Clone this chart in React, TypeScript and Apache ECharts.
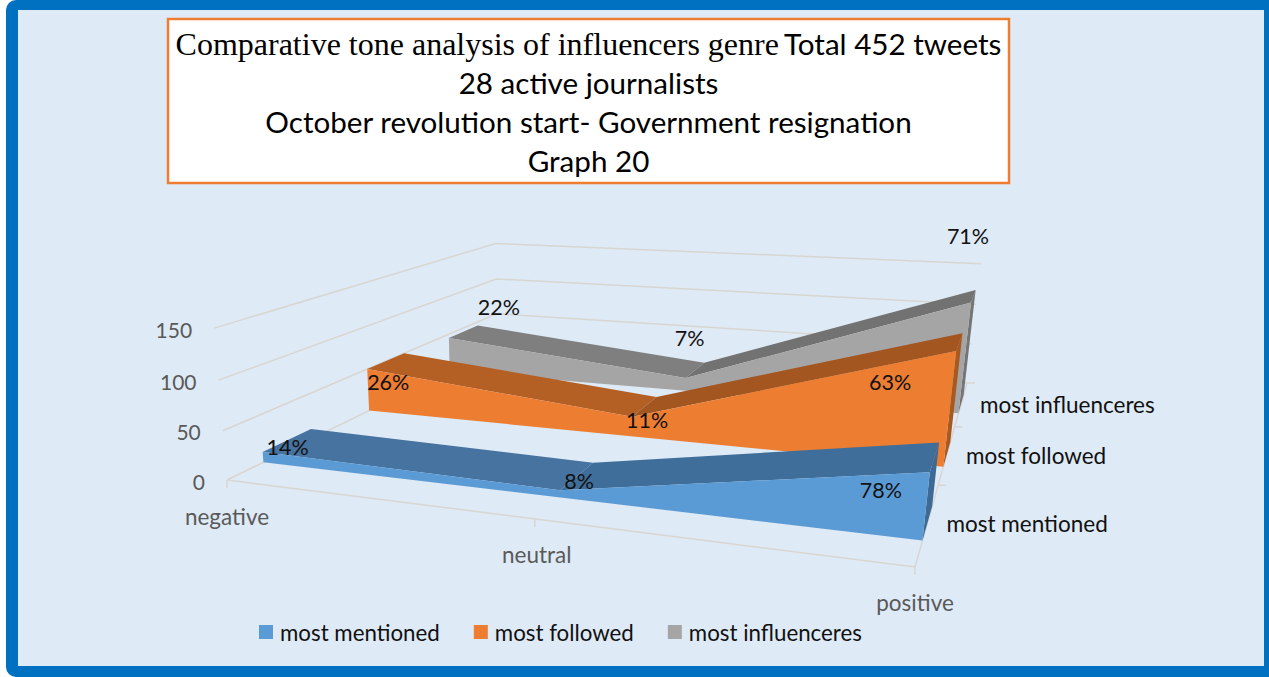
import React, { useEffect, useRef } from "react";
import * as echarts from "echarts";

const categories = ["negative", "neutral", "positive"];
const seriesNames = ["most mentioned", "most followed", "most influenceres"];
const mentionedValues = [11, 7, 60];
const followedValues = [50, 22, 117];
const influencersValues = [45, 16, 128];
const mentionedLabels = ["14%", "8%", "78%"];
const followedLabels = ["26%", "11%", "63%"];
const influencersLabels = ["22%", "7%", "71%"];
const yTicks = [0, 50, 100, 150];
const titleLines = [
  "{serif|Comparative tone analysis of influencers genre} {sans|Total 452 tweets}",
  "{sans|28 active journalists}",
  "{sans|October revolution start- Government resignation}",
  "{sans|Graph 20}",
];

const SANS = "Lato";

// Perspective camera fitted to the reference's 3D box (u: category, v: depth, z: value).
const G = -0.1904, H = 0.4849, K = -0.04;
const project = (u: number, v: number, z: number): [number, number] => {
  const w = 1 + G * u + H * v + K * z;
  return [
    (227 + 513.8 * u + 511 * v - 21.5 * z) / w,
    (480 - 20.96 * u + 36.75 * v - 165 * z) / w,
  ];
};
const toModel = (api: any, sys: any, cat: number, val: number) => {
  const p = api.coord([cat, val]);
  return { u: (p[0] - sys.x) / sys.width, z: (sys.y + sys.height - p[1]) / sys.height };
};

const LINE = "#D9D6D1";
const seriesStyle = [
  { front: "#5B9BD5", topA: "#4673A0", topB: "#3F6E9A", side: "#3D6A94", v0: 0.095, labels: mentionedLabels, nudges: [[25, -5], [19, -9], [-49, 18]] },
  { front: "#ED7D31", topA: "#B46025", topB: "#A3561F", side: "#A8591F", v0: 0.428, labels: followedLabels, nudges: [[21, 13], [15, 3], [-66, 31]] },
  { front: "#A5A5A5", topA: "#7F7F7F", topB: "#727272", side: "#757575", v0: 0.76, labels: influencersLabels, nudges: [[50, -31], [4, -40], [-3, -67]] },
];
const DEPTH = 0.14;

const poly = (points: number[][], fill: string) => ({
  type: "polygon",
  shape: { points },
  style: { fill, stroke: null },
});
const line = (points: number[][], width = 1.5) => ({
  type: "polyline",
  shape: { points },
  style: { fill: null, stroke: LINE, lineWidth: width },
});
const text = (x: number, y: number, t: string, fill: string, size: number, align: string) => ({
  type: "text",
  x,
  y,
  style: { text: t, fill, font: `${size}px ${SANS}`, textAlign: align, textVerticalAlign: "middle" },
});

const makeAreaSeries = (idx: number, values: number[]) => {
  const st = seriesStyle[idx];
  return {
    type: "custom",
    name: seriesNames[idx],
    coordinateSystem: "cartesian2d",
    z: 4 - idx,
    itemStyle: { color: st.front },
    encode: { x: 0, y: 1 },
    data: values.map((v, i) => [i, v]),
    renderItem: (params: any, api: any) => {
      const sys = params.coordSys;
      const pts = values.map((v, i) => toModel(api, sys, i, v));
      const base = values.map((_, i) => toModel(api, sys, i, 0));
      const v0 = st.v0;
      const v1 = st.v0 + DEPTH;
      const children: any[] = [];
      if (params.dataIndex === 0) {
        const last = pts.length - 1;
        children.push(
          poly(
            [
              project(base[last].u, v0, 0),
              project(pts[last].u, v0, pts[last].z),
              project(pts[last].u, v1, pts[last].z),
              project(base[last].u, v1, 0),
            ],
            st.side
          )
        );
        for (let i = 0; i < last; i++) {
          children.push(
            poly(
              [
                project(pts[i].u, v0, pts[i].z),
                project(pts[i + 1].u, v0, pts[i + 1].z),
                project(pts[i + 1].u, v1, pts[i + 1].z),
                project(pts[i].u, v1, pts[i].z),
              ],
              i === 0 ? st.topA : st.topB
            )
          );
        }
        children.push(
          poly(
            [
              project(base[0].u, v0, 0),
              ...pts.map((p) => project(p.u, v0, p.z)),
              project(base[last].u, v0, 0),
            ],
            st.front
          )
        );
        const mid = project(1, v0 + DEPTH / 2, 0);
        children.push(text(mid[0] + 19, mid[1] + 1, seriesNames[idx], "#111", 22.5, "left"));
      }
      const i = params.dataIndex;
      const anchor = project(pts[i].u, v0, pts[i].z);
      children.push(text(anchor[0] + st.nudges[i][0], anchor[1] + st.nudges[i][1], st.labels[i], "#111", 21.5, "center"));
      return { type: "group", children };
    },
  };
};

const wallSeries = {
  type: "custom",
  name: "walls",
  coordinateSystem: "cartesian2d",
  z: 1,
  silent: true,
  encode: { x: 0, y: 1 },
  data: yTicks.map((t) => [0, t]),
  renderItem: (params: any, api: any) => {
    const sys = params.coordSys;
    const t = yTicks[params.dataIndex];
    const { z } = toModel(api, sys, 0, t);
    const a = project(0, 0, z);
    return {
      type: "group",
      children: [
        line([a, project(0, 1, z), project(1, 1, z)]),
        text(a[0] - 22, a[1] + 1, String(t), "#595959", 21, "right"),
      ],
    };
  },
};

const floorSeries = {
  type: "custom",
  name: "floor",
  coordinateSystem: "cartesian2d",
  z: 1,
  silent: true,
  encode: { x: 0, y: 1 },
  data: categories.map((_, i) => [i, 0]),
  renderItem: (params: any, api: any) => {
    const sys = params.coordSys;
    const i = params.dataIndex;
    const { u } = toModel(api, sys, i, 0);
    const p = project(u, 0, 0);
    const children: any[] = [
      line([p, [p[0], p[1] + 8]]),
      text(p[0] + (i === 1 ? 2 : 0), p[1] + 36, categories[i], "#595959", 22.5, "center"),
    ];
    if (i === 0) {
      children.push(line([project(0, 0, 0), project(1, 0, 0), project(1, 1, 0)]));
      [1 / 3, 2 / 3, 1].forEach((v) => {
        const q = project(1, v, 0);
        children.push(line([q, [q[0] + 8, q[1]]]));
      });
    }
    return { type: "group", children };
  },
};

export default function App() {
  const ref = useRef<HTMLDivElement>(null);
  useEffect(() => {
    const chart = echarts.init(ref.current!, undefined, { renderer: "svg" });
    chart.setOption({
      animation: false,
      backgroundColor: "#FFFFFF",
      title: {
        text: titleLines.join("\n"),
        left: 583.5,
        top: 19,
        textAlign: "center",
        textStyle: {
          rich: {
            serif: { fontFamily: "Liberation Serif", fontSize: 32, color: "#000", lineHeight: 39, fontWeight: "normal" },
            sans: { fontFamily: SANS, fontSize: 29.6, color: "#000", lineHeight: 39, fontWeight: "normal" },
          },
        },
      },
      legend: {
        data: seriesNames,
        left: 254,
        top: 616,
        icon: "rect",
        itemWidth: 14,
        itemHeight: 14,
        itemGap: 34,
        selectedMode: false,
        textStyle: { fontFamily: SANS, fontSize: 22.3, color: "#111", padding: [0, 0, 0, 2] },
      },
      grid: { left: 100, top: 100, width: 800, height: 400 },
      xAxis: { type: "category", data: categories, boundaryGap: false, show: false },
      yAxis: { type: "value", min: 0, max: 150, interval: 50, show: false },
      graphic: [
        { type: "rect", z: -10, shape: { x: 6, y: 0, width: 1263, height: 677, r: [10, 0, 0, 10] }, style: { fill: "#0070C0" } },
        { type: "rect", z: -9, shape: { x: 18, y: 10, width: 1246, height: 656 }, style: { fill: "#DEEAF6" } },
        { type: "rect", z: -8, shape: { x: 168, y: 19, width: 841, height: 164 }, style: { fill: "#FFFFFF", stroke: "#ED7D31", lineWidth: 2.5 } },
      ],
      series: [
        wallSeries,
        floorSeries,
        makeAreaSeries(0, mentionedValues),
        makeAreaSeries(1, followedValues),
        makeAreaSeries(2, influencersValues),
      ],
    });
    return () => chart.dispose();
  }, []);
  return <div ref={ref} style={{ position: "fixed", left: 0, top: 0, width: 1269, height: 677 }} />;
}
